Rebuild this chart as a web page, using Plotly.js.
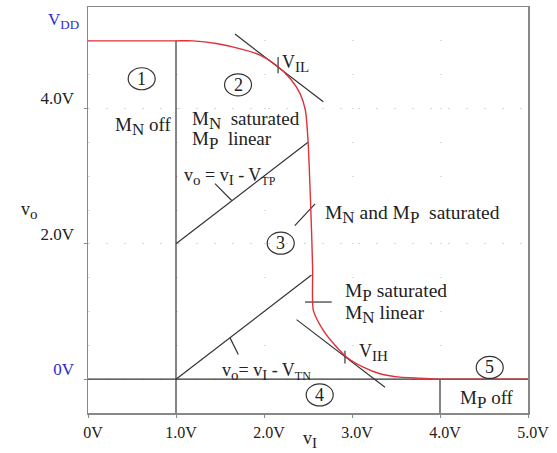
<!DOCTYPE html>
<html>
<head>
<meta charset="utf-8">
<script src="https://cdn.plot.ly/plotly-3.0.1.min.js"></script>
<style>html,body{margin:0;padding:0;background:#fff;}#chart{width:557px;height:453px;}</style>
</head>
<body>
<div id="chart"></div>
<script>
// ---- data ----
const xTickVals = [0, 1, 2, 3, 4, 5];
const xTickText = ["0V", "1.0V", "2.0V", "3.0V", "4.0V", "5.0V"];
const yTickVals = [0, 2, 4];
const yTickText = ['<span style="color:#2b2bcc">0V</span>', "2.0V", "4.0V"];

// voltage transfer characteristic (v_I, v_O)
const vtcX = [0, 1.0, 1.19, 1.46, 1.765, 1.955, 2.14, 2.30, 2.41, 2.47, 2.50, 2.54, 2.553, 2.56, 2.674, 2.807, 2.94, 3.128, 3.318, 3.545, 3.77, 4.0, 5.0];
const vtcY = [5.0, 5.0, 5.0, 4.96, 4.87, 4.79, 4.64, 4.44, 4.22, 3.975, 3.53, 2.20, 1.61, 1.02, 0.72, 0.50, 0.325, 0.178, 0.08, 0.03, 0.015, 0, 0];

// guide lines
const vtLineX = [1, 1],        vtLineY = [-0.5, 5.0];
const zeroLineX = [0, 5],      zeroLineY = [0, 0];
const v4LineX = [4, 4],        v4LineY = [-0.5, 0];
const tpLineX = [1, 2.5],      tpLineY = [2, 3.5];
const tnLineX = [1, 2.54],     tnLineY = [0, 1.54];
const vilTanX = [1.67, 2.674], vilTanY = [5.10, 4.10];
const vihTanX = [2.37, 3.375], vihTanY = [0.88, -0.12];
const vilTickX = [2.16, 2.16], vilTickY = [4.76, 4.52];
const vihTickX = [2.92, 2.92], vihTickY = [0.42, 0.23];
const midTickX = [2.466, 2.77],midTickY = [1.14, 1.14];
const satLeadX = [2.35, 2.58], satLeadY = [2.27, 2.59];
const tpLeadX = [1.443, 1.633],tpLeadY = [2.89, 2.64];
const tnLeadX = [1.614, 1.708],tnLeadY = [0.61, 0.365];

// region markers
const regionNums = ["1", "2", "3", "4", "5"];
const regionX = [0.61, 1.705, 2.19, 2.633, 4.565];
const regionY = [4.44, 4.35, 2.01, -0.233, 0.173];

// ---- build ----
const segsX = [vtLineX, zeroLineX, v4LineX, tpLineX, tnLineX, vilTanX, vihTanX, vilTickX, vihTickX, midTickX, satLeadX, tpLeadX, tnLeadX];
const segsY = [vtLineY, zeroLineY, v4LineY, tpLineY, tnLineY, vilTanY, vihTanY, vilTickY, vihTickY, midTickY, satLeadY, tpLeadY, tnLeadY];
let gx = [], gy = [];
segsX.forEach((sx, i) => { gx = gx.concat(sx, [null]); gy = gy.concat(segsY[i], [null]); });

const FONT = "Liberation Serif, Times New Roman, serif";
const traces = [
  {x: gx, y: gy, mode: "lines", line: {color: "#333", width: 1.2}, hoverinfo: "skip"},
  {x: vtcX, y: vtcY, mode: "lines", line: {color: "#e0303a", width: 1.4, shape: "spline", smoothing: 0.6}, hoverinfo: "skip"}
];

const S = (t) => '<sub><span style="font-size:15px">' + t + '</span></sub>';
const SM = (t) => '<sub><span style="font-size:17px">' + t + '</span></sub>';
function lab(text, x, y, size) {
  return {text: text, x: x, y: y, xref: "x", yref: "y", showarrow: false,
    xanchor: "left", yanchor: "middle", font: {family: FONT, size: size || 18, color: "#222"}};
}
const annotations = [
  lab("M" + SM("N") + " off", 0.284, 3.73, 19),
  lab("M" + SM("N") + "  saturated", 1.16, 3.82, 19),
  lab("M" + SM("P") + "  linear", 1.16, 3.53, 19),
  lab("v" + S("o") + " = v" + S("I") + " - V" + '<sub><span style="font-size:12px">TP</span></sub>', 1.07, 3.0),
  lab("M" + SM("N") + " and M" + SM("P") + "  saturated", 2.67, 2.43, 19.5),
  lab("M" + SM("P") + " saturated", 2.90, 1.28, 19.5),
  lab("M" + SM("N") + " linear", 2.90, 0.96, 19.5),
  lab("v" + S("o") + "= v" + S("I") + " - V" + '<sub><span style="font-size:12px">TN</span></sub>', 1.50, 0.12),
  lab("V" + S("IL"), 2.18, 4.67),
  lab("V" + S("IH"), 3.057, 0.40),
  lab("M" + SM("P") + " off", 4.205, -0.307, 19),
  {text: 'V<sub><span style="font-size:13px">DD</span></sub>', x: -0.0955, y: 5.30, xref: "paper", yref: "y",
   showarrow: false, xanchor: "left", yanchor: "middle", font: {family: FONT, size: 17, color: "#2b2bcc"}},
  {text: "v" + S("o"), x: -0.132, y: 2.5, xref: "paper", yref: "y", showarrow: false,
   xanchor: "center", yanchor: "middle", font: {family: FONT, size: 18, color: "#222"}},
  {text: "v" + S("I"), x: 0.505, y: -0.0665, xref: "paper", yref: "paper", showarrow: false,
   xanchor: "center", yanchor: "middle", font: {family: FONT, size: 18, color: "#222"}}
];
const shapes = [];
regionNums.forEach((n, i) => {
  annotations.push({text: n, x: regionX[i], y: regionY[i], xref: "x", yref: "y", showarrow: false,
    xanchor: "center", yanchor: "middle", font: {family: FONT, size: 18, color: "#222"}});
  shapes.push({type: "circle", xref: "x", yref: "y", xsizemode: "pixel", ysizemode: "pixel",
    xanchor: regionX[i], yanchor: regionY[i], x0: -13.5, x1: 13.5, y0: -11, y1: 11,
    line: {color: "#333", width: 1.2}});
});

const layout = {
  width: 557, height: 453,
  margin: {l: 88, r: 29, t: 7, b: 40},
  paper_bgcolor: "#fff", plot_bgcolor: "#fff",
  showlegend: false,
  font: {family: FONT, size: 16, color: "#222"},
  xaxis: {range: [0, 5], tickmode: "array", tickvals: xTickVals, ticktext: xTickText,
    showgrid: false, zeroline: false, showline: true, mirror: true, linecolor: "#888", linewidth: 1.5,
    ticks: "outside", ticklen: 3, tickcolor: "#888", ticklabelstandoff: 1, ticklabelshift: 5,
    tickfont: {family: FONT, size: 16, color: "#222"}, fixedrange: true},
  yaxis: {range: [-0.5, 5.5], tickmode: "array", tickvals: yTickVals, ticktext: yTickText,
    showgrid: true, gridcolor: "#d4d4d4", griddash: "2px,16px", gridwidth: 1,
    minor: {dtick: 0.5, tick0: 0, showgrid: true, gridcolor: "#dcdcdc", griddash: "2px,86px", ticks: ""},
    zeroline: false, showline: true, mirror: true, linecolor: "#888", linewidth: 1.5,
    ticks: "outside", ticklen: 3, tickcolor: "#888", ticklabelstandoff: 6, ticklabelshift: -10,
    tickfont: {family: FONT, size: 17, color: "#222"}, fixedrange: true},
  annotations: annotations,
  shapes: shapes
};
Plotly.newPlot("chart", traces, layout, {staticPlot: true, displayModeBar: false});
</script>
</body>
</html>
